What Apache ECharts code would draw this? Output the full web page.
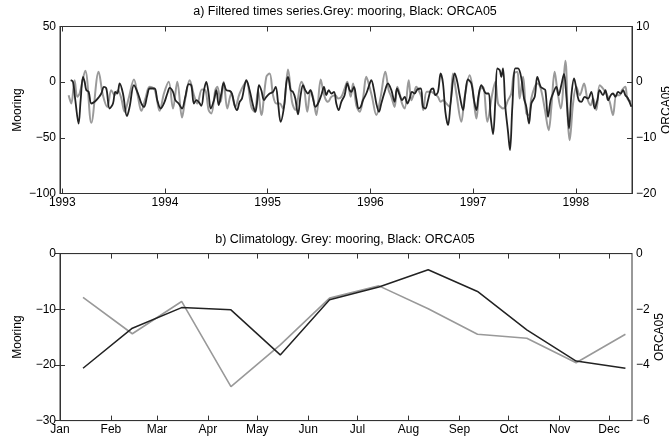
<!DOCTYPE html>
<html><head><meta charset="utf-8">
<script src="https://cdn.jsdelivr.net/npm/echarts@6/dist/echarts.min.js"></script>
<style>html,body{margin:0;padding:0;background:#fff}#c{width:669px;height:441px}</style>
</head><body><div id="c"></div>
<script>
// ---- Panel a: filtered time series ----
const mooringTime = [1993.062,1993.088,1993.120,1993.146,1993.169,1993.224,1993.283,1993.354,1993.396,1993.439,1993.477,1993.510,1993.542,1993.575,1993.607,1993.646,1993.698,1993.737,1993.770,1993.809,1993.851,1993.899,1993.948,1993.990,1994.036,1994.078,1994.120,1994.166,
1994.198,1994.240,1994.282,1994.315,1994.360,1994.393,1994.425,1994.451,1994.490,1994.510,1994.542,1994.571,1994.607,1994.646,1994.685,1994.727,1994.792,1994.841,1994.873,1994.906,1994.938,1994.987,1995.019,1995.052,1995.084,1995.117,1995.149,1995.198,1995.237,1995.269,
1995.328,1995.353,1995.386,1995.418,1995.441,1995.474,1995.516,1995.539,1995.561,1995.587,1995.620,1995.659,1995.685,1995.717,1995.749,1995.775,1995.808,1995.831,1995.863,1995.896,1995.928,1995.960,1995.983,1996.016,1996.058,1996.100,1996.145,1996.178,1996.204,1996.236,1996.262,1996.285,1996.308,1996.334,1996.373,1996.399,1996.425,1996.447,1996.470,
1996.496,1996.515,1996.548,1996.587,1996.619,1996.658,1996.684,1996.707,1996.739,1996.772,1996.804,1996.837,1996.885,1996.918,1996.967,1996.993,1997.032,1997.064,1997.096,1997.139,1997.184,1997.217,1997.243,1997.269,1997.291,1997.314,1997.340,1997.372,1997.398,1997.431,1997.453,1997.486,1997.518,1997.544,1997.567,1997.600,1997.625,1997.658,
1997.697,1997.736,1997.762,1997.794,1997.820,1997.853,1997.898,1997.924,1997.940,1997.973,1998.005,1998.038,1998.080,1998.112,1998.145,1998.168,1998.200,1998.232,1998.265,1998.297,1998.330,1998.362,1998.395,1998.427,1998.450,1998.482,1998.502,1998.541];
const mooringValue = [-11.7,-19.2,1.8,-13.2,-10.2,10.2,-36.5,9.3,-11.7,-22.2,-7.2,-11.7,-7.2,-14.7,-26.6,-14.7,2.4,-13.2,-25.7,-14.7,-4.2,-6.6,-25.7,-10.2,0.3,-23.7,0.3,-31.7,
-14.7,1.8,-11.7,-19.2,-6.6,-7.2,-25.1,-28.1,-7.2,-4.2,-17.7,0.3,-23.7,-10.2,-22.2,-10.2,0.3,-22.2,-26.6,-7.2,-29.6,4.8,7.8,-11.7,-19.2,-19.2,-23.7,11.4,-17.7,-25.1,
0.3,-4.2,-26.6,-7.2,-13.2,-29.6,2.4,-7.2,-14.7,-17.7,-13.2,-11.7,-14.7,-13.2,-5.7,0.3,-13.2,-1.2,-20.7,-26.6,-14.7,4.8,-1.2,-13.2,-29.6,-13.2,9.3,-7.2,-13.2,-22.2,-4.2,-10.2,-19.2,-23.7,1.8,-16.2,-10.2,-4.2,-7.2,
-13.2,-25.1,-8.7,-8.7,-10.2,-13.2,-17.7,-16.2,-19.2,-22.2,7.8,-10.2,-35.6,-13.2,6.3,-4.2,-32.6,-7.2,-4.2,-35.6,-11.7,0.3,-19.2,-22.2,-23.7,-22.2,-16.2,-10.2,7.8,9.3,-14.7,4.8,-28.1,-29.6,-14.7,-4.2,-1.2,-5.7,
-23.7,-43.1,-22.2,9.3,-7.2,-23.7,19.2,-37.1,-52.1,-19.2,-4.2,-11.7,-1.2,-14.7,-20.7,-14.7,-25.1,-2.7,-5.7,-10.2,-17.7,-29.6,-11.7,-11.7,-7.2,-4.2,-14.7,-17.7];

const orcaTime = [1993.082,1993.104,1993.127,1993.159,1993.179,1993.202,1993.218,1993.234,1993.257,1993.283,1993.315,1993.354,1993.380,1993.406,1993.429,1993.461,1993.494,1993.516,1993.536,1993.559,1993.591,1993.630,1993.656,1993.698,1993.737,1993.770,1993.796,1993.828,1993.851,1993.899,1993.925,1993.958,1993.990,1994.023,1994.046,1994.078,1994.101,1994.133,1994.166,
1994.198,1994.231,1994.256,1994.282,1994.305,1994.328,1994.354,1994.380,1994.402,1994.425,1994.445,1994.477,1994.500,1994.523,1994.549,1994.571,1994.597,1994.630,1994.652,1994.678,1994.701,1994.727,1994.750,1994.776,1994.792,1994.824,1994.857,1994.880,1994.899,1994.915,1994.938,1994.964,1994.987,1995.019,1995.052,1995.078,1995.100,1995.126,1995.159,1995.181,1995.198,1995.224,1995.246,1995.269,1995.295,
1995.321,1995.344,1995.366,1995.392,1995.415,1995.441,1995.464,1995.490,1995.522,1995.548,1995.571,1995.594,1995.620,1995.646,1995.668,1995.691,1995.717,1995.749,1995.775,1995.798,1995.814,1995.840,1995.863,1995.886,1995.905,1995.928,1995.960,1995.983,1996.009,1996.035,1996.058,1996.084,1996.106,1996.139,1996.171,1996.204,1996.236,1996.259,1996.285,1996.308,1996.334,1996.360,1996.382,1996.405,1996.431,1996.457,
1996.490,1996.512,1996.535,1996.561,1996.587,1996.610,1996.632,1996.658,1996.684,1996.707,1996.730,1996.756,1996.782,1996.821,1996.846,1996.869,1996.902,1996.924,1996.950,1996.983,1997.009,1997.032,1997.054,1997.080,1997.113,1997.129,1997.152,1997.171,1997.194,1997.217,1997.236,1997.259,1997.275,1997.291,1997.314,1997.340,1997.359,1997.382,1997.411,1997.437,1997.470,1997.496,1997.518,1997.544,1997.567,1997.600,1997.625,1997.658,1997.681,
1997.703,1997.729,1997.755,1997.778,1997.810,1997.833,1997.859,1997.885,1997.908,1997.934,1997.957,1997.983,1998.005,1998.028,1998.054,1998.086,1998.119,1998.151,1998.184,1998.210,1998.232,1998.265,1998.288,1998.314,1998.340,1998.362,1998.385,1998.411,1998.437,1998.460,1998.482,1998.508,1998.541];
const orcaValue = [0.36,0.06,-3.23,-7.43,-3.23,0.96,0.06,-1.44,-1.74,-3.83,-3.53,-2.75,-2.04,-0.84,-1.14,-4.73,-3.83,-1.74,-2.04,-0.24,-2.04,-6.11,-4.43,-0.54,-2.04,-3.83,-4.43,-2.34,-1.14,-1.14,-3.23,-4.73,-3.83,-2.04,-1.02,-1.74,-3.23,-3.83,-4.73,
-2.63,-0.36,-0.54,-3.83,-3.23,-3.53,-4.25,-1.44,0.06,-2.04,-4.73,-3.23,-1.44,-4.13,-2.04,-0.12,-1.44,-1.56,-2.04,-4.13,-5.03,-3.53,-2.93,-0.54,0.36,-1.44,-4.13,-5.33,-3.23,-0.54,-1.44,-3.23,-2.63,-2.04,-1.74,-0.84,-3.53,-7.13,-4.43,-0.24,0.96,-1.44,-1.74,-2.93,-5.8,
-2.34,-0.54,-1.44,-2.04,-1.44,-2.93,-4.43,-3.83,-2.34,-0.84,-2.34,-1.44,-2.04,-1.74,-3.83,-5.03,-3.53,-2.34,-0.24,-1.44,-1.74,-0.84,-2.93,-4.73,-4.43,-3.23,-2.04,-0.84,0.36,-1.44,-3.83,-5.33,-3.83,-1.74,-0.24,-1.44,-3.53,-1.14,-2.34,-3.23,-2.63,-3.83,-2.93,-1.74,-2.04,-1.32,
-1.14,-4.43,-4.73,-3.23,-1.44,-1.14,-2.34,-1.74,1.56,-0.24,-5.33,-7.72,-3.53,1.56,0.06,-2.34,-5.03,-2.04,0.48,-0.24,-3.23,-5.03,-2.34,-0.54,-1.74,-2.04,-2.04,-6.23,-9.34,-3.23,2.46,2.16,0.96,2.46,-4.43,-8.92,-12.22,-4.43,2.46,2.46,0.66,-2.93,-4.43,-7.43,-3.83,-2.63,0.96,-0.84,-1.14,
-1.44,-6.23,-3.23,-2.04,-0.84,-2.34,-0.5,1.5,-2.5,-8.32,-2.34,0.66,-1.14,-3.23,-3.53,-2.63,-2.93,-1.74,-4.73,-3.23,-1.44,-2.34,-1.44,-3.23,-2.34,-2.04,-2.63,-1.74,-2.04,-1.44,-2.34,-2.93,-4.43];

const yearTicks = [1993,1994,1995,1996,1997,1998];

// ---- Panel b: climatology ----
const climDay = [14,44,74,104,134,164,194,224,254,284,314,344];
const climMooring = [-7.85,-14.4,-8.6,-23.9,-16.4,-8.0,-5.8,-9.9,-14.5,-15.2,-19.6,-14.5];
const climOrca = [-4.12,-2.68,-1.94,-2.02,-3.64,-1.66,-1.20,-0.58,-1.36,-2.74,-3.86,-4.12];
const monthTicks = [0,31,59,90,120,151,181,212,243,273,304,334];
const monthNames = ['Jan','Feb','Mar','Apr','May','Jun','Jul','Aug','Sep','Oct','Nov','Dec'];

const pairs = (xs, ys) => xs.map((x, i) => [x, ys[i]]);
const FONT = "'Liberation Sans', Arial, sans-serif";
const minus = v => String(v).replace('-', '\u2212');
const AX = '#333';

function yAx(grid, pos, min, max, interval, name, gap) {
  return {
    type: 'value', gridIndex: grid, position: pos, min, max, interval,
    name, nameLocation: 'middle', nameGap: gap, nameRotate: 90, nameMoveOverlap: false,
    nameTextStyle: {fontFamily: FONT, fontSize: 12, color: '#000'},
    axisLine: {show: true, lineStyle: {color: AX, width: 1}},
    axisTick: {show: true, inside: true, length: 5, lineStyle: {color: AX}},
    axisLabel: {fontFamily: FONT, fontSize: 12, color: '#000', margin: 4, formatter: minus},
    splitLine: {show: false}
  };
}
function xAx(grid, pos, min, max, ticks, fmt) {
  return {
    type: 'value', gridIndex: grid, position: pos, min, max,
    axisLine: {show: true, onZero: false, lineStyle: {color: AX, width: 1}},
    axisTick: {show: true, inside: true, length: 5, customValues: ticks, lineStyle: {color: AX}},
    axisLabel: {show: pos === 'bottom', customValues: ticks, fontFamily: FONT, fontSize: 12, color: '#000', margin: 3, formatter: fmt},
    splitLine: {show: false}
  };
}

const chart = echarts.init(document.getElementById('c'), null, {renderer: 'canvas'});
chart.setOption({
  animation: false,
  backgroundColor: '#fff',
  title: [
    {text: 'a) Filtered times series.Grey: mooring, Black: ORCA05', left: 345, textAlign: 'center', top: 5, padding: 0,
     textStyle: {fontFamily: FONT, fontSize: 12.5, fontWeight: 'normal', color: '#000'}},
    {text: 'b) Climatology. Grey: mooring, Black: ORCA05', left: 345, textAlign: 'center', top: 233, padding: 0,
     textStyle: {fontFamily: FONT, fontSize: 12.5, fontWeight: 'normal', color: '#000'}}
  ],
  graphic: [
    {type: 'text', x: 667, y: 110, rotation: Math.PI / 2, silent: true,
     style: {text: 'ORCA05', fontFamily: FONT, fontSize: 12, fill: '#000', align: 'center', verticalAlign: 'middle'}}
  ],
  grid: [
    {left: 60, right: 37, top: 26.5, height: 167, show: true, borderColor: AX, borderWidth: 1, backgroundColor: 'transparent', outerBoundsMode: 'none', containLabel: false},
    {left: 60, right: 37, top: 253.6, height: 167, show: true, borderColor: AX, borderWidth: 1, backgroundColor: 'transparent', outerBoundsMode: 'none', containLabel: false}
  ],
  xAxis: [
    xAx(0, 'bottom', 1992.978, 1998.547, yearTicks, v => String(Math.round(v))),
    xAx(0, 'top', 1992.978, 1998.547, yearTicks, v => ''),
    xAx(1, 'bottom', 0, 348, monthTicks, v => monthNames[monthTicks.indexOf(v)] || ''),
    xAx(1, 'top', 0, 348, monthTicks, v => '')
  ],
  yAxis: [
    yAx(0, 'left', -100, 50, 50, 'Mooring', 36),
    yAx(0, 'right', -20, 10, 10, '', 26),
    yAx(1, 'left', -30, 0, 10, 'Mooring', 36),
    yAx(1, 'right', -6, 0, 2, 'ORCA05', 22)
  ],
  series: [
    {type: 'line', xAxisIndex: 0, yAxisIndex: 0, data: pairs(mooringTime, mooringValue), showSymbol: false, smooth: 0.35,
     lineStyle: {color: '#9a9a9a', width: 2}, z: 2},
    {type: 'line', xAxisIndex: 0, yAxisIndex: 1, data: pairs(orcaTime, orcaValue), showSymbol: false, smooth: 0.35,
     lineStyle: {color: '#222', width: 1.8}, z: 3},
    {type: 'line', xAxisIndex: 2, yAxisIndex: 2, data: pairs(climDay, climMooring), showSymbol: false,
     lineStyle: {color: '#999', width: 1.6}, z: 2},
    {type: 'line', xAxisIndex: 2, yAxisIndex: 3, data: pairs(climDay, climOrca), showSymbol: false,
     lineStyle: {color: '#222', width: 1.5}, z: 3}
  ]
});
</script></body></html>
